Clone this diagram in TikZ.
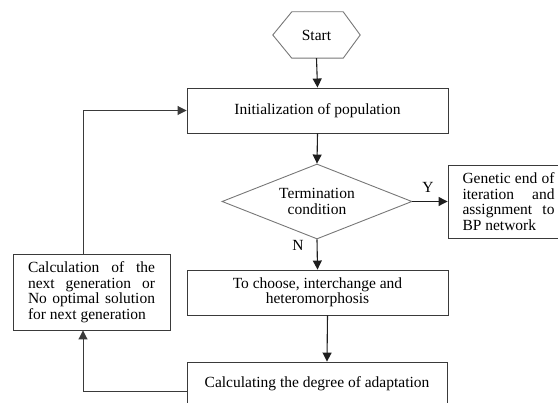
\documentclass[tikz,border=0pt]{standalone}
\usepackage{fontspec}
\setmainfont{Liberation Serif}
\usetikzlibrary{arrows.meta,shapes.geometric}
\definecolor{boxline}{HTML}{3A3A3A}
\definecolor{softline}{HTML}{777777}
\definecolor{conn}{HTML}{1E1E1E}
\begin{document}
\begin{tikzpicture}[x=1pt,y=-1pt,
  every node/.style={font=\fontsize{15.5}{15.5}\selectfont, text=black},
  procbox/.style={draw=boxline, line width=0.9pt, rectangle, inner sep=0pt},
  decision/.style={draw=softline, line width=0.9pt, diamond, inner sep=0pt, aspect=2.53, minimum width=190pt, minimum height=75pt, align=center},
  flow/.style={draw=conn, line width=1.1pt, -{Triangle[length=9pt,width=9pt]}},
  loopline/.style={draw=boxline, line width=0.9pt, -{Triangle[length=9pt,width=9pt]}},
  lbl/.style={inner sep=0pt}
]
\useasboundingbox (0,0) rectangle (558,403);
\clip (0,0) rectangle (558,403);

% Start hexagon
\node[minimum width=87pt, minimum height=46pt, inner sep=0pt] (start) at (316.5,35) {Start};
\draw[softline, line width=0.9pt] (start.west) -- ([xshift=19pt]start.north west) -- ([xshift=-17pt]start.north east) -- (start.east) -- ([xshift=-17pt]start.south east) -- ([xshift=19pt]start.south west) -- cycle;

% Boxes
\node[procbox, minimum width=261pt, minimum height=45pt] (init) at (317.5,110.5) {Initialization of population};
\node[decision] (term) at (317,201.5) {Termination\\condition};
\node[procbox, minimum width=121pt, minimum height=73pt, text width=92pt, align=justify] (gen) at (508.5,201.5)
  {\makebox[\linewidth][s]{Genetic end of}\\\makebox[\linewidth][s]{iteration and}\\\makebox[\linewidth][s]{assignment to}\\BP network};
\node[procbox, minimum width=261pt, minimum height=45pt, align=center] (choose) at (317.5,292.5) {To choose, interchange and\\heteromorphosis};
\node[procbox, minimum width=260pt, minimum height=44pt] (calc) at (317,384) {Calculating the degree of adaptation};
\node[procbox, minimum width=157pt, minimum height=76pt, text width=127pt, align=justify] (left) at (91.5,292)
  {\makebox[\linewidth][s]{Calculation of the}\\\makebox[\linewidth][s]{next generation or}\\\makebox[\linewidth][s]{No optimal solution}\\for next generation};

% Connectors
\draw[flow] (start.south) -- (init.north);
\draw[flow] (init.south) -- (term.north);
\draw[flow] (term.east) -- (gen.west);
\draw[flow] (term.south) -- (choose.north);
\draw[flow] ([xshift=10pt]choose.south) -- ([xshift=10pt]calc.north);
\draw[loopline] ([yshift=-30pt]calc.north west) -| ([xshift=-8.5pt]left.south);
\draw[loopline] ([xshift=-8.5pt]left.north) |- (init.west);

% Labels
\node[lbl] (ylab) at (428,187) {Y};
\node[lbl] (nlab) at (298,245) {N};
\end{tikzpicture}
\end{document}
